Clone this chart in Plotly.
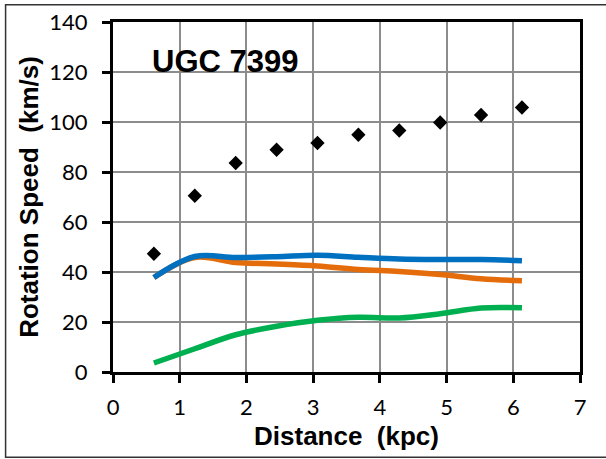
import plotly.graph_objects as go

# Data
distance = [0.613, 1.226, 1.839, 2.452, 3.065, 3.678, 4.291, 4.904, 5.517, 6.13]
observed = [47.3, 70.5, 83.6, 88.9, 91.6, 94.9, 96.6, 99.8, 102.8, 105.8]
blue_curve = [37.8, 46.2, 45.8, 46.1, 46.7, 45.9, 45.2, 45.0, 45.0, 44.5]
orange_curve = [37.8, 45.8, 43.8, 43.2, 42.4, 41.0, 40.2, 39.0, 37.3, 36.5]
green_curve = [3.6, 9.3, 14.9, 18.3, 20.7, 21.9, 21.6, 23.3, 25.6, 25.7]
x_ticks = [0, 1, 2, 3, 4, 5, 6, 7]
y_ticks = [0, 20, 40, 60, 80, 100, 120, 140]

fig = go.Figure()
fig.add_trace(go.Scatter(x=distance, y=green_curve, mode="lines", line=dict(color="#00B050", width=5.5, shape="spline"), showlegend=False))
fig.add_trace(go.Scatter(x=distance, y=orange_curve, mode="lines", line=dict(color="#E46C0A", width=5.5, shape="spline"), showlegend=False))
fig.add_trace(go.Scatter(x=distance, y=blue_curve, mode="lines", line=dict(color="#0070C0", width=5.5, shape="spline"), showlegend=False))
fig.add_trace(go.Scatter(x=distance, y=observed, mode="markers", marker=dict(symbol="diamond", color="black", size=11), showlegend=False))

tickfont = dict(family="Lato, Carlito, sans-serif", size=22, color="black")
titlefont = dict(family="Liberation Sans, Arial, sans-serif", size=26, color="black")

fig.update_layout(
    width=606, height=459,
    margin=dict(l=113, r=26, t=22, b=87, autoexpand=False),
    paper_bgcolor="white", plot_bgcolor="white",
    xaxis=dict(range=[0, 7], tickvals=x_ticks, showgrid=True, gridcolor="#8C8C8C", gridwidth=1.5,
               showline=True, linecolor="black", linewidth=3, mirror=True,
               ticks="outside", ticklen=8, tickwidth=3, tickcolor="black",
               tickfont=tickfont, ticklabelstandoff=6, zeroline=False, automargin=False,
               title=dict(text="<b>Distance  (kpc)</b>", font=titlefont, standoff=8)),
    yaxis=dict(range=[0, 140], tickvals=y_ticks, showgrid=True, gridcolor="#8C8C8C", gridwidth=1.5,
               showline=True, linecolor="black", linewidth=3, mirror=True,
               ticks="outside", ticklen=8, tickwidth=3, tickcolor="black",
               tickfont=tickfont, ticklabelstandoff=10, zeroline=False, automargin=False,
               title=dict(text="<b>Rotation Speed  (km/s)</b>", font=titlefont, standoff=4)),
    annotations=[dict(text="<b>UGC 7399</b>", x=0.08, y=0.888, xref="paper", yref="paper",
                      xanchor="left", yanchor="middle", showarrow=False,
                      font=dict(family="Liberation Sans, Arial, sans-serif", size=31, color="black"))],
    shapes=[dict(type="rect", xref="paper", yref="paper", x0=-0.23, x1=1.2, y0=-0.2434, y1=1.0494,
                 line=dict(color="#333333", width=1.5), layer="below")],
)

fig.write_html("out.html", config={"displayModeBar": False},
               post_script="document.body.style.margin='0px';")
